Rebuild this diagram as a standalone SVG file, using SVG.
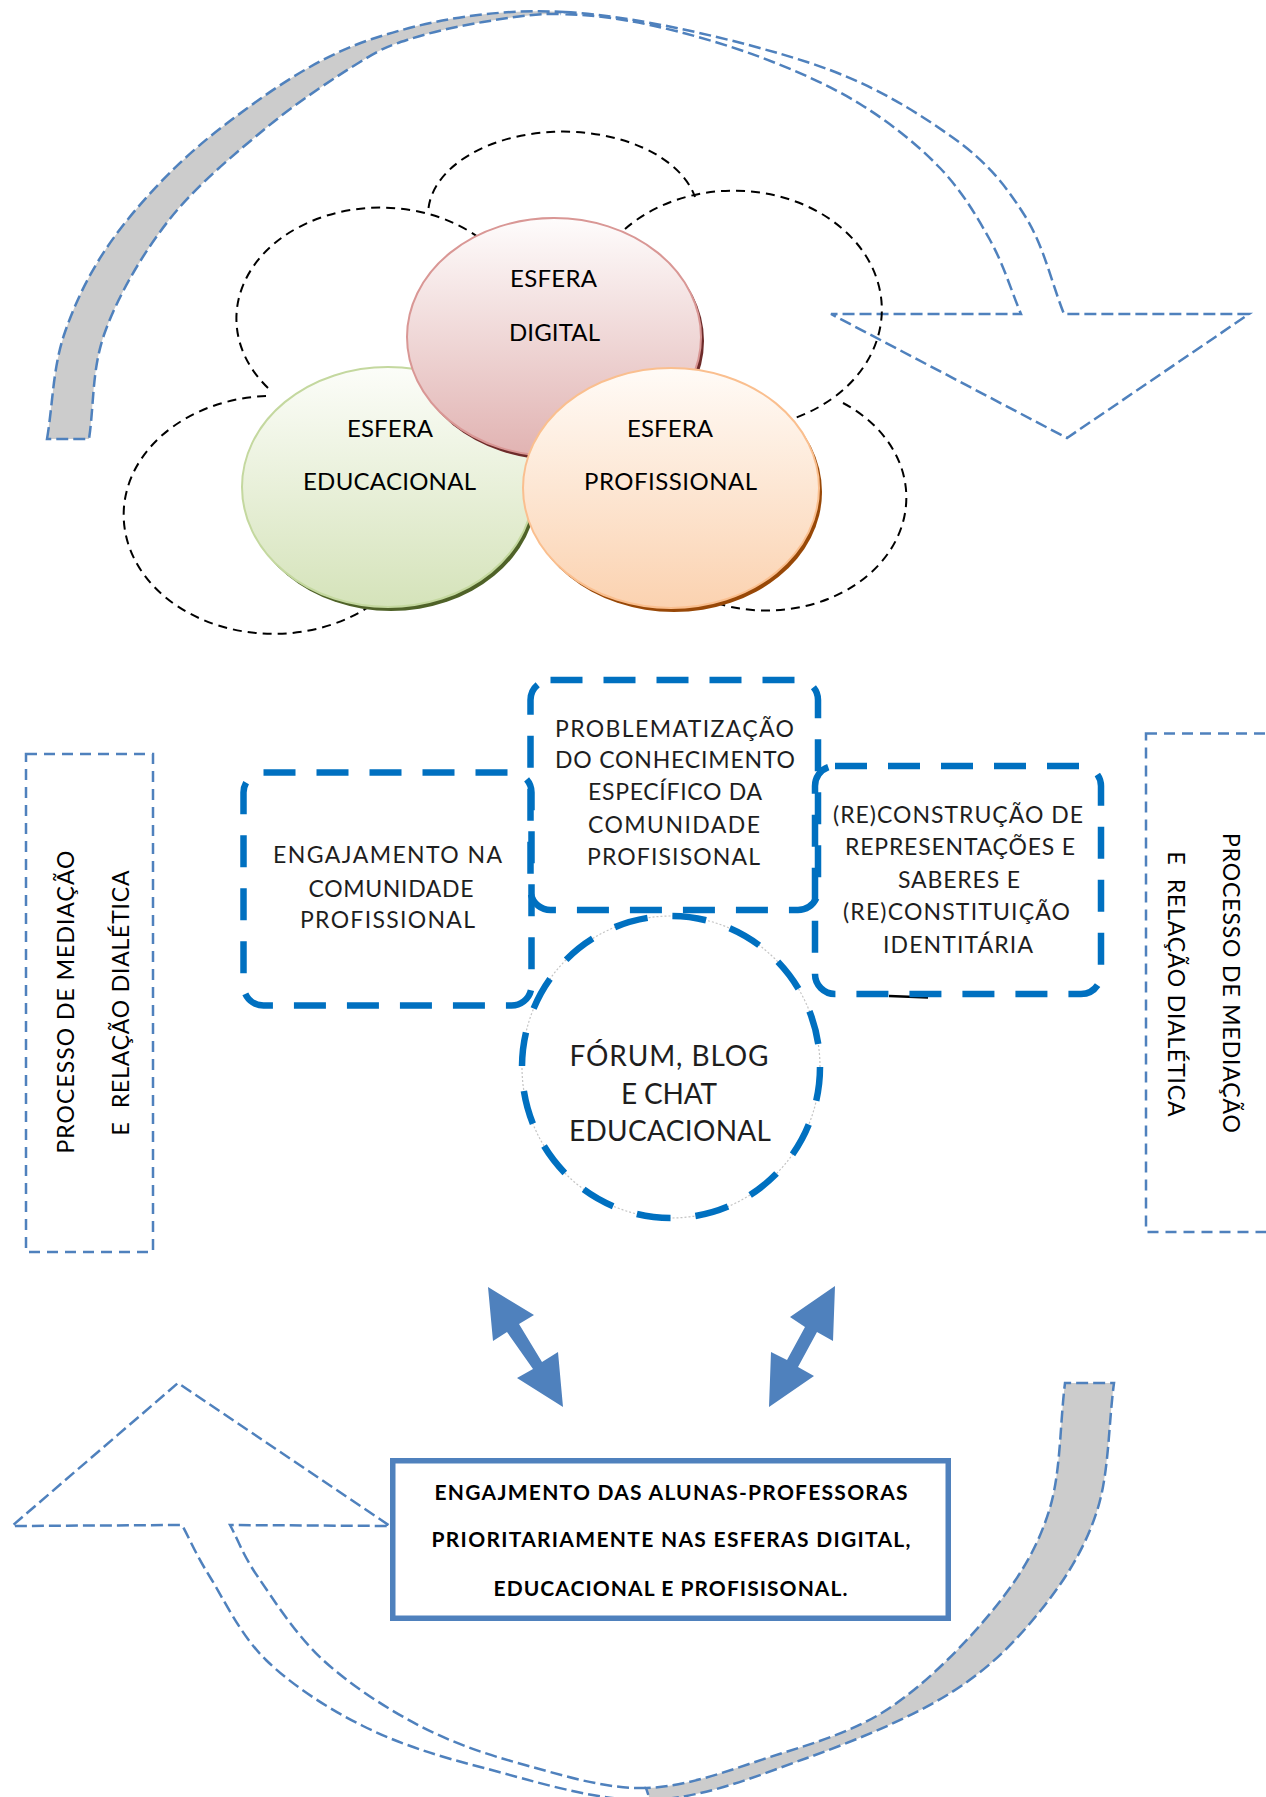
<svg xmlns="http://www.w3.org/2000/svg" width="1266" height="1797" viewBox="0 0 1266 1797">
<defs>
<style>
.thin{fill:none;stroke:#4f81bd;stroke-width:2.5;stroke-dasharray:12 5}
.band{fill:#cccccc;stroke:#4f81bd;stroke-width:2.5;stroke-dasharray:12 5}
.vbox{fill:none;stroke:#4f81bd;stroke-width:2.5;stroke-dasharray:11 7}
.cloud{fill:none;stroke:#000;stroke-width:2;stroke-dasharray:9 6}
.thick{fill:none;stroke:#0070c0;stroke-width:6.5;stroke-dasharray:32 21}
.t{font-family:Lato,"Liberation Sans",Arial,sans-serif;text-anchor:middle;fill:#000}
.m{font-size:23px;fill:#1e1e1e}
.e{font-size:24px}
.v{font-size:23px}
.b{font-size:21px;font-weight:bold}
.f{font-size:28px;fill:#1e1e1e}
.dbl{fill:#4f81bd}
</style>
<linearGradient id="gPink" x1="0" y1="0" x2="0" y2="1">
<stop offset="0" stop-color="#fefcfc"/><stop offset="1" stop-color="#e1b3b2"/>
</linearGradient>
<linearGradient id="gGreen" x1="0" y1="0" x2="0" y2="1">
<stop offset="0" stop-color="#fcfdf9"/><stop offset="1" stop-color="#d5e3ba"/>
</linearGradient>
<linearGradient id="gOrange" x1="0" y1="0" x2="0" y2="1">
<stop offset="0" stop-color="#fffbf7"/><stop offset="1" stop-color="#fbd2b0"/>
</linearGradient>
</defs>
<rect x="0" y="0" width="1266" height="1797" fill="#fff"/>

<g id="top-cycle-arrow">
<path class="band" d="M47,439 C53,403.3 52.7,367.2 65,332 C77.3,296.8 94.2,262.7 121,228 C147.8,193.3 184.2,155.5 226,124 C267.8,92.5 315.5,57.7 372,39 C428.5,20.3 492.5,8.2 565,12 L560,14 C532.2,13.5 508,17.8 483,22 C458,26.2 430.5,32.3 410,39 C389.5,45.7 384,47.2 360,62 C336,76.8 297.8,101.7 266,128 C234.2,154.3 195.8,186 169,220 C142.2,254 118.3,295.5 105,332 C91.7,368.5 94.3,403.3 89,439 Z"/>
<path class="thin" d="M565,12 C637.5,15.8 742.5,41.2 807,62 C871.5,82.8 915.7,111.3 952,137 C988.3,162.7 1006.3,186.5 1025,216 C1043.7,245.5 1051,281.3 1064,314 L1249,314 L1067,438 L831,314 L1021,314 C1010.7,289.3 1003.5,264.3 990,240 C976.5,215.7 961.7,190.7 940,168 C918.3,145.3 890,122.5 860,104 C830,85.5 795,70.2 760,57 C725,43.8 683.3,32.2 650,25 C616.7,17.8 587.8,14.5 560,14"/>
</g>

<g id="cloud">
<path class="cloud" d="M428.5,208 A135,83 0 0 1 695,197"/>
<path class="cloud" d="M268,388 A144,111 0 0 1 478,237"/>
<path class="cloud" d="M625,229 A148,119 0 1 1 795,418"/>
<path class="cloud" d="M266,396 A150,119 0 1 0 367,608"/>
<path class="cloud" d="M843,403 A140,113 0 0 1 710,601"/>
</g>

<g id="esfera-educacional">
<ellipse cx="391" cy="491" rx="146" ry="120" fill="#4f6228"/>
<ellipse cx="388" cy="487" rx="146" ry="120" fill="url(#gGreen)" stroke="#c4d89f" stroke-width="2"/>
<text class="t e" x="390" y="437" textLength="86">ESFERA</text>
<text class="t e" x="389.5" y="490" textLength="173">EDUCACIONAL</text>
</g>

<g id="esfera-digital">
<ellipse cx="557" cy="341" rx="147" ry="119" fill="#6e2b2a"/>
<ellipse cx="554" cy="337" rx="147" ry="119" fill="url(#gPink)" stroke="#d99795" stroke-width="2"/>
<text class="t e" x="553.5" y="287" textLength="87">ESFERA</text>
<text class="t e" x="554.5" y="341" textLength="91">DIGITAL</text>
</g>

<g id="esfera-profissional">
<ellipse cx="674" cy="492" rx="148" ry="120" fill="#984807"/>
<ellipse cx="671" cy="488" rx="148" ry="120" fill="url(#gOrange)" stroke="#fabf8f" stroke-width="2"/>
<text class="t e" x="670" y="437" textLength="86">ESFERA</text>
<text class="t e" x="670.5" y="490" textLength="173">PROFISSIONAL</text>
</g>

<g id="mediacao-esquerda">
<rect class="vbox" x="26" y="754" width="127" height="498"/>
<text class="t v" transform="translate(74,1002) rotate(-90)" x="0" y="0" textLength="303" xml:space="preserve">PROCESSO DE MEDIAÇÃO</text>
<text class="t v" transform="translate(129,1003) rotate(-90)" x="0" y="0" textLength="265" xml:space="preserve">E  RELAÇÃO DIALÉTICA</text>
</g>

<g id="mediacao-direita">
<rect class="vbox" x="1146" y="733.5" width="135" height="498.5"/>
<text class="t v" transform="translate(1223,983) rotate(90)" x="0" y="0" textLength="300" xml:space="preserve">PROCESSO DE MEDIAÇÃO</text>
<text class="t v" transform="translate(1168,984) rotate(90)" x="0" y="0" textLength="265" xml:space="preserve">E  RELAÇÃO DIALÉTICA</text>
</g>

<g id="engajamento-comunidade">
<rect class="thick" x="243.5" y="772.5" width="288" height="233" rx="20"/>
<text class="t m" x="387.5" y="863" textLength="229">ENGAJAMENTO NA</text>
<text class="t m" x="391" y="897" textLength="165">COMUNIDADE</text>
<text class="t m" x="387.5" y="928" textLength="175">PROFISSIONAL</text>
</g>

<g id="reconstrucao">
<line x1="889" y1="996" x2="928" y2="997.5" stroke="#000" stroke-width="2.5"/>
<rect class="thick" x="815" y="766" width="286" height="228" rx="20"/>
<text class="t m" x="958" y="823" textLength="250">(RE)CONSTRUÇÃO DE</text>
<text class="t m" x="960" y="855" textLength="230">REPRESENTAÇÕES E</text>
<text class="t m" x="959" y="888" textLength="122">SABERES E</text>
<text class="t m" x="956.5" y="920" textLength="227">(RE)CONSTITUIÇÃO</text>
<text class="t m" x="958" y="953" textLength="150">IDENTITÁRIA</text>
</g>

<g id="problematizacao">
<rect class="thick" x="530.5" y="680" width="287.5" height="230" rx="20"/>
<text class="t m" x="674.5" y="737" textLength="239">PROBLEMATIZAÇÃO</text>
<text class="t m" x="675" y="768" textLength="240">DO CONHECIMENTO</text>
<text class="t m" x="675" y="800" textLength="174">ESPECÍFICO DA</text>
<text class="t m" x="674" y="833" textLength="172">COMUNIDADE</text>
<text class="t m" x="673.5" y="865" textLength="173">PROFISISONAL</text>
</g>

<g id="forum-blog-chat">
<ellipse cx="671" cy="1067" rx="149" ry="151" fill="none" stroke="#c4c4c4" stroke-width="1.2" stroke-dasharray="2 2"/>
<ellipse cx="671" cy="1067" rx="149" ry="151" fill="none" stroke="#0070c0" stroke-width="6.5" stroke-dasharray="34 25"/>
<text class="t f" x="669" y="1066" textLength="199">FÓRUM, BLOG</text>
<text class="t f" x="669" y="1104" textLength="96">E CHAT</text>
<text class="t f" x="670" y="1141" textLength="202">EDUCACIONAL</text>
</g>

<g id="connectors">
<polygon class="dbl" points="488,1287 534,1315 519,1324 542,1362 558,1352 563,1407 517,1378 533,1369 507,1332 493,1341"/>
<polygon class="dbl" points="835,1286 833,1341 817,1332 798,1367 814,1376 769,1407 771,1352 787,1360 805,1327 790,1317"/>
</g>

<g id="bottom-cycle-arrow">
<path class="band" d="M650,1800 C703.8,1798.3 756.7,1776 807,1758 C857.3,1740 913,1716.7 952,1692 C991,1667.3 1016.8,1640.2 1041,1610 C1065.2,1579.8 1084.8,1548.8 1097,1511 C1109.2,1473.2 1108.3,1425.7 1114,1383 L1065,1383 C1059.7,1425.7 1061,1473.2 1049,1511 C1037,1548.8 1019.8,1577 993,1610 C966.2,1643 925.7,1684.3 888,1709 C850.3,1733.7 807.3,1744.8 767,1758 C726.7,1771.2 686.3,1786.8 646,1788 Z"/>
<path class="thin" d="M646,1788 C605.7,1789.2 562.7,1775.3 525,1765 C487.3,1754.7 453.7,1743.5 420,1726 C386.3,1708.5 350,1684.8 323,1660 C296,1635.2 273.5,1599.5 258,1577 C242.5,1554.5 239.3,1542.3 230,1525 L390,1526 L178,1383 L12,1526 L182,1525 C191.3,1542.3 196,1554.5 210,1577 C224,1599.5 240.5,1635.2 266,1660 C291.5,1684.8 326.7,1708 363,1726 C399.3,1744 436.2,1755.7 484,1768 C531.8,1780.3 596.2,1801.7 650,1800"/>
</g>

<g id="engajamento-alunas">
<rect x="392.75" y="1460.75" width="555.5" height="157.5" fill="#fff" stroke="#4f81bd" stroke-width="5.5"/>
<text class="t b" x="671" y="1500" textLength="473">ENGAJMENTO DAS ALUNAS-PROFESSORAS</text>
<text class="t b" x="671" y="1547" textLength="479">PRIORITARIAMENTE NAS ESFERAS DIGITAL,</text>
<text class="t b" x="670.5" y="1596" textLength="354">EDUCACIONAL E PROFISISONAL.</text>
</g>
</svg>
